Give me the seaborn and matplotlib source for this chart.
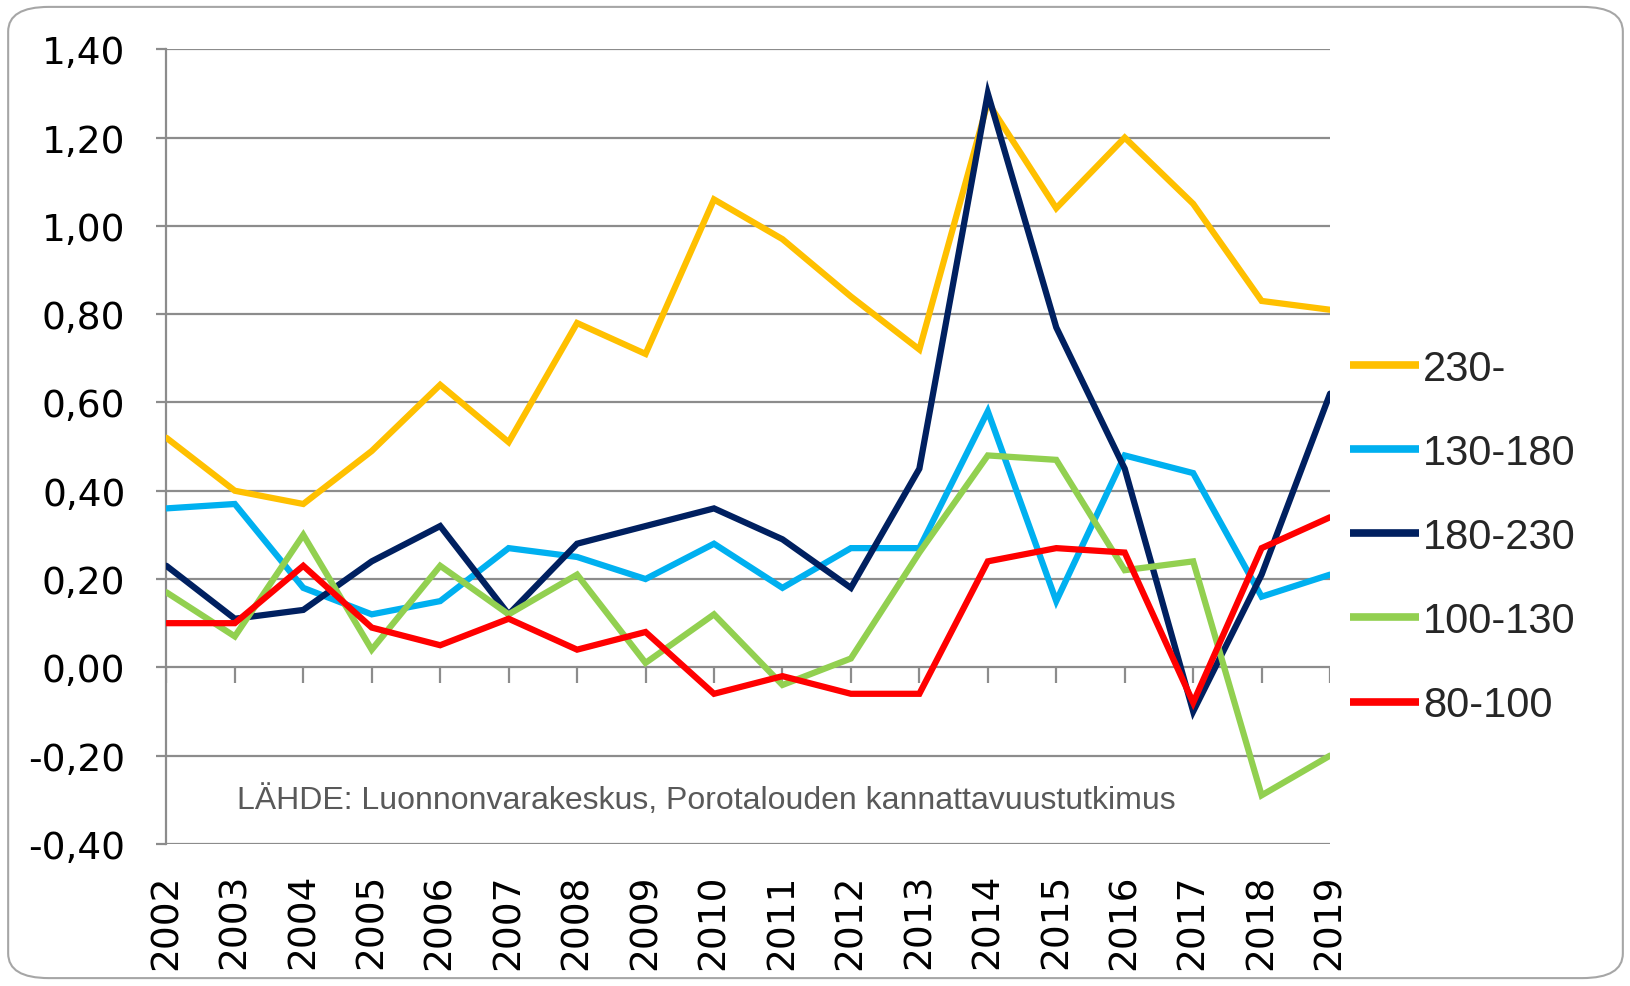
import matplotlib
matplotlib.use("Agg")
import matplotlib.pyplot as plt
import seaborn as sns
import pandas as pd
from matplotlib.patches import FancyBboxPatch
from matplotlib.lines import Line2D

years = list(range(2002, 2020))
s_230 = [0.52, 0.40, 0.37, 0.49, 0.64, 0.51, 0.78, 0.71, 1.06, 0.97, 0.84, 0.72, 1.28, 1.04, 1.20, 1.05, 0.83, 0.81]
s_130_180 = [0.36, 0.37, 0.18, 0.12, 0.15, 0.27, 0.25, 0.20, 0.28, 0.18, 0.27, 0.27, 0.58, 0.15, 0.48, 0.44, 0.16, 0.21]
s_180_230 = [0.23, 0.11, 0.13, 0.24, 0.32, 0.12, 0.28, 0.32, 0.36, 0.29, 0.18, 0.45, 1.30, 0.77, 0.45, -0.10, 0.21, 0.62]
s_100_130 = [0.17, 0.07, 0.30, 0.04, 0.23, 0.12, 0.21, 0.01, 0.12, -0.04, 0.02, 0.26, 0.48, 0.47, 0.22, 0.24, -0.29, -0.20]
s_80_100 = [0.10, 0.10, 0.23, 0.09, 0.05, 0.11, 0.04, 0.08, -0.06, -0.02, -0.06, -0.06, 0.24, 0.27, 0.26, -0.08, 0.27, 0.34]

series_names = ["230-", "130-180", "180-230", "100-130", "80-100"]
colors = ["#FFC000", "#00B0F0", "#002060", "#92D050", "#FF0000"]
yticks = [-0.40, -0.20, 0.00, 0.20, 0.40, 0.60, 0.80, 1.00, 1.20, 1.40]
ytick_labels = ["-0,40", "-0,20", "0,00", "0,20", "0,40", "0,60", "0,80", "1,00", "1,20", "1,40"]
source_text = "LÄHDE: Luonnonvarakeskus, Porotalouden kannattavuustutkimus"

rows = []
for name, vals in zip(series_names, [s_230, s_130_180, s_180_230, s_100_130, s_80_100]):
    for y, v in zip(years, vals):
        rows.append({"year": y, "value": v, "series": name})
df = pd.DataFrame(rows)

sns.set_theme(style="white")
plt.rcParams["font.family"] = ["DejaVu Sans"]

fig = plt.figure(figsize=(16.31, 9.87), dpi=100)
ax = fig.add_axes([0.102, 0.144, 0.7135, 0.805])

grid_c = "#8C8C8C"
for t in yticks:
    ax.axhline(t, color=grid_c, lw=1.6, zorder=1)

sns.lineplot(data=df, x="year", y="value", hue="series", hue_order=series_names,
             palette=colors, linewidth=4.5, ax=ax, legend=False, zorder=3,
             solid_joinstyle="miter")

# horizontal axis line at zero with tick marks
ax.vlines(years, 0, -0.035, color=grid_c, lw=1.6, zorder=2)

ax.set_xlim(2002, 2019)
ax.set_ylim(-0.40, 1.40)
ax.set_yticks(yticks)
ax.set_yticklabels(ytick_labels, fontsize=27, color="black")
ax.set_xticks(years)
ax.set_xticklabels([str(y) for y in years], rotation=90, fontsize=27,
                   family=["Liberation Sans Narrow", "DejaVu Sans"], color="black")
ax.tick_params(axis="y", length=7.5, width=1.6, color=grid_c, pad=22, left=True)
ax.tick_params(axis="x", length=0, pad=21)
ax.set_xlabel("")
ax.set_ylabel("")
for side in ["top", "right", "bottom"]:
    ax.spines[side].set_visible(False)
ax.spines["left"].set_color(grid_c)
ax.spines["left"].set_linewidth(1.6)
ax.grid(False)

ax.text(0.061, 0.056, source_text, transform=ax.transAxes, fontsize=23,
        color="#595959", family=["Liberation Sans", "DejaVu Sans"], va="center")

handles = [Line2D([0], [0], color=c, lw=5.5, solid_capstyle="butt") for c in colors]
fig.legend(handles, series_names, loc="center left", bbox_to_anchor=(0.815, 0.455),
           frameon=False, handlelength=1.65, handletextpad=0.1, borderpad=0,
           labelspacing=1.06, prop={"family": ["Liberation Sans", "DejaVu Sans"], "size": 30})

border = FancyBboxPatch((0.005, 0.008), 0.99, 0.984, boxstyle="round,pad=0,rounding_size=0.025",
                        transform=fig.transFigure, fill=False, edgecolor="#A6A6A6", lw=1.5)
fig.patches.append(border)

fig.savefig("out.png", dpi=100)
